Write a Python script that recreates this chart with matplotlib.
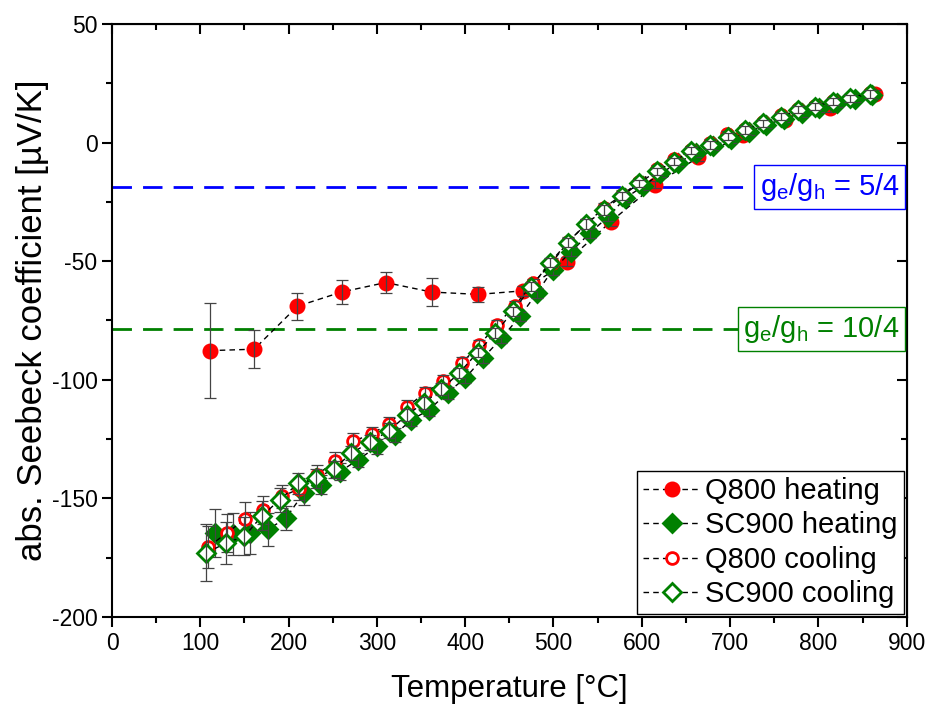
import numpy as np
import matplotlib
matplotlib.use("Agg")
import matplotlib.pyplot as plt
from matplotlib.ticker import MultipleLocator

plt.rcParams['font.family'] = 'Liberation Sans'
plt.rcParams['font.size'] = 16
plt.rcParams['axes.unicode_minus'] = False

# Q800 heating (filled red circles)
T_q800_h = [111, 161, 210, 260, 310, 362, 415, 465, 515, 565, 615, 664, 715, 762, 813, 864]
S_q800_h = [-87.7, -87.1, -69, -63, -59, -63, -64, -62.5, -50.2, -33.3, -17.8, -6.2, 3.2, 9.5, 14.5, 20.5]
E_q800_h = [20, 8, 5.6, 5, 4.5, 6, 3.3, 2, 2, 2, 1.5, 1.5, 1.5, 1.5, 1.5, 1.5]

# SC900 heating (filled green diamonds)
T_sc900_h = [117, 137, 156, 177, 197, 217, 237, 258, 279, 300, 320, 339, 359, 380, 400, 420, 441, 462,
             481, 499, 520, 541, 562, 581, 601, 621, 641, 661, 681, 701, 721, 741, 761, 781, 801, 821, 841, 861]
S_sc900_h = [-164.6, -165, -164.6, -163, -158.3, -147.8, -144.3, -138.7, -133.7, -128.1, -123.2, -116.9,
             -112.7, -105.4, -99.3, -90.9, -82.5, -73.3, -63.5, -53.7, -46, -38.2, -31.2, -23.5, -18.5,
             -13, -8.5, -4.5, -1.5, 1.5, 4.5, 7.5, 10, 12.5, 14.5, 16.5, 18.5, 20]
E_sc900_h = [10, 9, 9, 7, 5, 5, 4, 3.5, 3, 3, 3, 2.5, 2.5, 2.5, 2, 2, 2, 2, 2, 2, 2, 2, 2, 1.5, 1.5,
             1.5, 1.5, 1.5, 1.5, 1.5, 1.5, 1.5, 1.5, 1.5, 1.5, 1.5, 1.5, 1.5]

# Q800 cooling (open red circles)
T_q800_c = [109, 130, 151, 171, 192, 212, 232, 253, 273, 294, 314, 334, 354, 375, 396, 416, 436, 456,
            477, 498, 517, 537, 557, 578, 597, 617, 636, 656, 677, 697, 717, 737, 758, 777, 796, 817, 836, 858]
S_q800_c = [-170.5, -164.6, -158.7, -154.8, -149.2, -146, -140, -134.4, -126, -122.8, -118.5, -111.5,
            -105.6, -100.3, -93, -85.3, -76.8, -68.8, -59.3, -50.6, -41.7, -34.3, -27.5, -22, -16.5,
            -11, -7, -3, 0, 3.5, 5.8, 8.5, 11.5, 14, 15.5, 17.5, 19, 20.8]
E_q800_c = [9, 8, 7, 6, 5, 4.5, 4, 4, 3.5, 3, 3, 3, 2.5, 2.5, 2.5, 2, 2, 2, 2, 2, 2, 2, 2, 2, 1.5,
            1.5, 1.5, 1.5, 1.5, 1.5, 1.5, 1.5, 1.5, 1.5, 1.5, 1.5, 1.5, 1.5]

# SC900 cooling (open green diamonds)
T_sc900_c = [107, 129, 150, 170, 190, 211, 231, 251, 271, 292, 314, 334, 353, 373, 393, 414, 434, 454,
             475, 496, 516, 537, 557, 578, 597, 617, 636, 656, 677, 698, 717, 737, 758, 777, 796, 817, 836, 858]
S_sc900_c = [-173, -168.8, -166, -157.3, -150.6, -143.6, -141.5, -137.7, -130.9, -126.4, -121.4, -114.8,
             -109.8, -104, -97.2, -88.5, -80.3, -71.2, -60.7, -50.6, -42.2, -34.3, -28.4, -22.5, -17.1,
             -12, -8, -3.4, -1, 2.5, 5.3, 8.2, 10.9, 13.8, 15.2, 17.3, 18.7, 20.5]
E_sc900_c = [12, 9, 8, 6, 5, 4.5, 4, 3.5, 3, 3, 3, 2.5, 2.5, 2.5, 2, 2, 2, 2, 2, 2, 2, 2, 2, 1.5, 1.5,
             1.5, 1.5, 1.5, 1.5, 1.5, 1.5, 1.5, 1.5, 1.5, 1.5, 1.5, 1.5, 1.5]

# reference levels for the degeneracy ratios
S_ratio_54 = -18.6
S_ratio_104 = -78.7

red = '#ff0000'
green = '#008000'

fig = plt.figure(figsize=(9.28, 7.04), dpi=100)
ax = fig.add_axes([0.1207, 0.1236, 0.8563, 0.8423])

ax.axhline(S_ratio_54, color='#0000ff', lw=2, dashes=(7, 4), zorder=1)
ax.axhline(S_ratio_104, color=green, lw=2, dashes=(7, 4), zorder=1)

series = [
    (T_q800_h, S_q800_h, E_q800_h, 'o', red, red, 9.5, 'Q800 heating'),
    (T_sc900_h, S_sc900_h, E_sc900_h, 'D', green, green, 9, 'SC900 heating'),
    (T_q800_c, S_q800_c, E_q800_c, 'o', red, 'white', 8.5, 'Q800 cooling'),
    (T_sc900_c, S_sc900_c, E_sc900_c, 'D', green, 'white', 9, 'SC900 cooling'),
]

handles = []
z = 3
for T, S, E, mk, ec, fc, ms, lab in series:
    h, = ax.plot(T, S, ls='--', dashes=(4, 3), color='black', lw=1,
                 marker=mk, ms=ms, mec=ec, mfc=fc, mew=2, label=lab, zorder=z)
    ax.errorbar(T, S, yerr=E, fmt='none', ecolor='#444444', elinewidth=0.9,
                capsize=4, capthick=0.9, zorder=z + 0.5)
    handles.append(h)
    z += 1

ax.text(892, S_ratio_54, r'g$_\mathregular{e}$/g$_\mathregular{h}$ = 5/4', color='#0000ff',
        fontsize=21, ha='right', va='center', zorder=10,
        bbox=dict(boxstyle='square,pad=0.2', fc='white', ec='#0000ff', lw=1))
ax.text(892, S_ratio_104, r'g$_\mathregular{e}$/g$_\mathregular{h}$ = 10/4', color=green,
        fontsize=21, ha='right', va='center', zorder=10,
        bbox=dict(boxstyle='square,pad=0.2', fc='white', ec=green, lw=1))

ax.set_xlim(0, 900)
ax.set_ylim(-200, 50)
ax.xaxis.set_major_locator(MultipleLocator(100))
ax.xaxis.set_minor_locator(MultipleLocator(50))
ax.yaxis.set_major_locator(MultipleLocator(50))
ax.yaxis.set_minor_locator(MultipleLocator(25))
ax.tick_params(which='major', direction='out', length=7, width=1.5, labelsize=16.5)
ax.tick_params(which='minor', direction='out', length=4, width=1.5)
for sp in ax.spines.values():
    sp.set_linewidth(1.5)

# mirrored ticks on top and right, pointing inward
top = ax.secondary_xaxis('top')
top.xaxis.set_major_locator(MultipleLocator(100))
top.xaxis.set_minor_locator(MultipleLocator(50))
top.tick_params(which='major', direction='in', length=7, width=1.5, labeltop=False)
top.tick_params(which='minor', direction='in', length=4, width=1.5)
right = ax.secondary_yaxis('right')
right.yaxis.set_major_locator(MultipleLocator(50))
right.yaxis.set_minor_locator(MultipleLocator(25))
right.tick_params(which='major', direction='in', length=7, width=1.5, labelright=False)
right.tick_params(which='minor', direction='in', length=4, width=1.5)

ax.set_xlabel('Temperature [°C]', fontsize=22.5, labelpad=14)
ax.set_ylabel('abs. Seebeck coefficient [µV/K]', fontsize=25, labelpad=2)

leg = ax.legend(handles=handles, loc='lower right', fontsize=21, frameon=True, fancybox=False,
                edgecolor='black', framealpha=1, handlelength=2.0, handletextpad=0.15,
                labelspacing=0.22, borderpad=0.2, borderaxespad=0.1)
leg.get_frame().set_linewidth(1)
leg.set_zorder(20)

fig.savefig('out.png', dpi=100)
